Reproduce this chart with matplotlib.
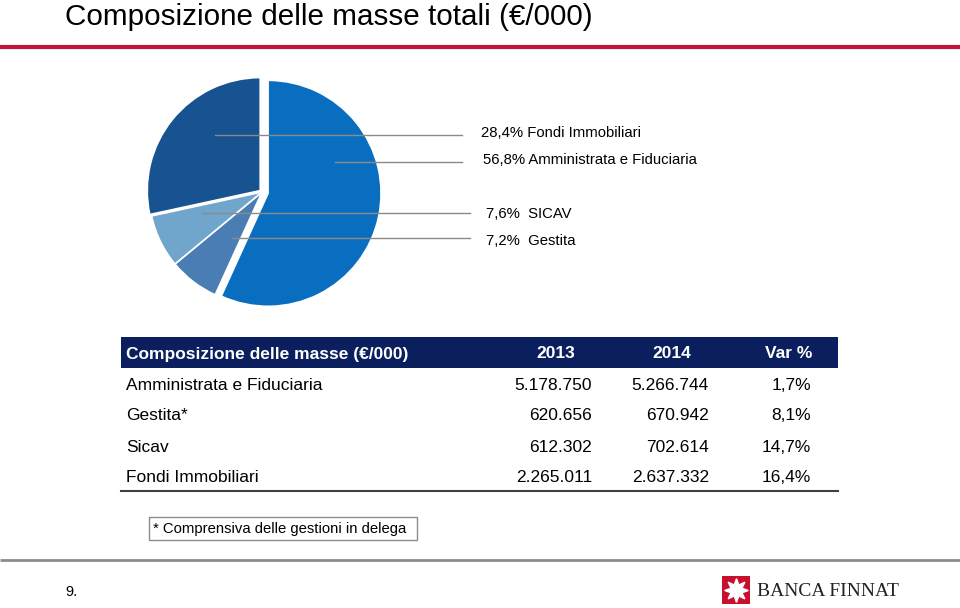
import matplotlib
matplotlib.use("Agg")
import matplotlib.pyplot as plt
from matplotlib.patches import Rectangle

# pie data (share %)
pie_labels = ["Amministrata e Fiduciaria", "Gestita", "SICAV", "Fondi Immobiliari"]
pie_shares = [56.8, 7.2, 7.6, 28.4]
pie_texts = ["56,8% Amministrata e Fiduciaria", "7,2%  Gestita", "7,6%  SICAV", "28,4% Fondi Immobiliari"]
pie_colors = ["#0a6ec0", "#4a7db4", "#70a5cc", "#175391"]

# table data
tab_header = ["Composizione delle masse (\u20ac/000)", "2013", "2014", "Var %"]
tab_rows = ["Amministrata e Fiduciaria", "Gestita*", "Sicav", "Fondi Immobiliari"]
val_2013 = ["5.178.750", "620.656", "612.302", "2.265.011"]
val_2014 = ["5.266.744", "670.942", "702.614", "2.637.332"]
var_pct = ["1,7%", "8,1%", "14,7%", "16,4%"]

REG = ["Liberation Sans", "DejaVu Sans"]

W, H = 960, 608
fig = plt.figure(figsize=(W / 100, H / 100), dpi=100)

# overlay in pixel coords
ov = fig.add_axes([0, 0, 1, 1])
ov.set_xlim(0, W)
ov.set_ylim(H, 0)
ov.axis("off")

# pie axes: center (262,192), radius 113 px
cx, cy, r, half = 262, 192, 113, 150
pax = fig.add_axes([(cx - half) / W, (H - cy - half) / H, 2 * half / W, 2 * half / H])
pax.pie(pie_shares, colors=pie_colors, startangle=90, counterclock=False,
        explode=[0.055, 0, 0, 0.02], radius=1,
        wedgeprops=dict(edgecolor="white", linewidth=1.2))
pax.set_xlim(-half / r, half / r)
pax.set_ylim(-half / r, half / r)
pax.set_aspect("equal")
pax.axis("off")
pax.set_zorder(1)
ov.set_zorder(2)

# title and rules
ov.text(65, 17, "Composizione delle masse totali (\u20ac/000)", fontsize=21.3, family=REG,
        va="center", ha="left")
ov.plot([0, W], [47, 47], color="#c0143c", lw=3, solid_capstyle="butt")
ov.plot([0, W], [560, 560], color="#8c8c8c", lw=2, solid_capstyle="butt")

# leader lines + labels (order: Fondi, Amministrata, SICAV, Gestita)
# (line start x, line y, line end x, label x, label y, slice index)
leaders = [(215, 135, 462, 481, 133, 3), (335, 162, 462, 483, 160, 0),
           (202, 213, 470, 486, 214, 2), (232, 238, 470, 486, 241, 1)]
for x0, y0, x1, tx, ty, i in leaders:
    ov.plot([x0, x1], [y0, y0], color="#8a8a8a", lw=1)
    ov.text(tx, ty, pie_texts[i], fontsize=10.7, family=REG, va="center", ha="left")

# table
ov.add_patch(Rectangle((121, 337), 717, 31, color="#0b1f5e", lw=0))
hx = [126, 556, 672, 812]
has = ["left", "center", "center", "right"]
for t, x, a in zip(tab_header, hx, has):
    ov.text(x, 354, t, color="white", fontsize=12.5, fontweight="bold", family=REG,
            va="center", ha=a)
for k in range(len(tab_rows)):
    y = 385 + 31 * k
    ov.text(126, y, tab_rows[k], fontsize=12.5, family=REG, va="center", ha="left")
    ov.text(592, y, val_2013[k], fontsize=12.5, family=REG, va="center", ha="right")
    ov.text(709, y, val_2014[k], fontsize=12.5, family=REG, va="center", ha="right")
    ov.text(811, y, var_pct[k], fontsize=12.5, family=REG, va="center", ha="right")
ov.plot([121, 838], [491, 491], color="#404040", lw=1.5)

# footnote box
ov.add_patch(Rectangle((149, 517), 268, 23, fill=False, edgecolor="#8c8c8c", lw=1))
ov.text(153, 528.5, "* Comprensiva delle gestioni in delega", fontsize=10.7, family=REG,
        va="center", ha="left")

# footer
ov.text(65, 592, "9.", fontsize=10.5, family=REG, va="center", ha="left")
ov.add_patch(Rectangle((722, 576), 28, 28, color="#c8102e", lw=0))
ov.plot([736], [590], marker=(8, 1, 0), ms=17, color="white")
ov.plot([736], [590], marker="o", ms=9, color="white")
ov.text(757, 591, "BANCA FINNAT", fontsize=14, family=["Liberation Serif", "DejaVu Serif"],
        va="center", ha="left", color="#222222")

fig.savefig("out.png", dpi=100)
